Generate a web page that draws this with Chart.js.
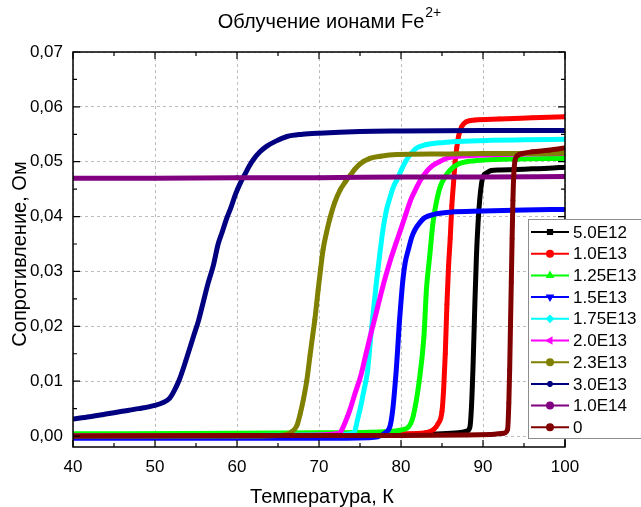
<!DOCTYPE html>
<html><head><meta charset="utf-8">
<script src="https://cdn.jsdelivr.net/npm/chart.js@4.4.1/dist/chart.umd.min.js"></script>
<style>html,body{margin:0;padding:0;background:#fff}</style>
</head><body>
<canvas id="c" width="641" height="507" style="display:block;width:641px;height:507px"></canvas>
<script>
// ---------- data ----------
const titleMain = "Облучение ионами Fe";
const titleSup = "2+";
const xTitle = "Температура, К";
const yTitle = "Сопротивление, Ом";
const seriesLabels = ["5.0E12","1.0E13","1.25E13","1.5E13","1.75E13","2.0E13","2.3E13","3.0E13","1.0E14","0"];
const xTickValues = [40,50,60,70,80,90,100];
const yTickValues = [0,0.01,0.02,0.03,0.04,0.05,0.06,0.07];

const t_5E12 = [40,50,60,70,80,85,87,88,88.4,88.6,88.8,89.0,89.2,89.4,89.6,89.8,90.0,90.5,91,92,94,96,98,100];
const r_5E12 = [0.0002,0.0002,0.0002,0.0002,0.0003,0.0004,0.0006,0.0009,0.0016,0.0055,0.0134,0.0237,0.0328,0.0389,0.0431,0.0458,0.0473,0.0480,0.0484,0.0485,0.0486,0.0487,0.0488,0.0490];

const t_1E13 = [40,60,80,83,84,84.5,85.0,85.2,85.4,85.6,85.8,86.0,86.2,86.4,86.6,86.8,87.0,87.4,88,89,92,96,100];
const r_1E13 = [0.0002,0.0002,0.0004,0.0006,0.0012,0.0022,0.0045,0.0085,0.015,0.024,0.031,0.036,0.042,0.046,0.050,0.0525,0.0545,0.0564,0.0573,0.0576,0.0578,0.0580,0.0582];

const t_125E13 = [40,60,70,78,80,81,81.5,82.2,82.8,83.1,83.5,83.9,84.3,84.8,85.4,86,87,88,90,94,100];
const r_125E13 = [0.0004,0.0005,0.0006,0.0008,0.0011,0.0018,0.0037,0.0098,0.0182,0.0267,0.0328,0.0389,0.0425,0.0455,0.0473,0.0485,0.0496,0.0500,0.0503,0.0505,0.0506];

const t_15E13 = [40,60,70,76,78.2,78.7,79.0,79.2,79.4,79.6,79.8,80.0,80.2,80.5,80.9,81.3,81.7,82.3,82.9,84,86,90,95,100];
const r_15E13 = [-0.0004,-0.0004,-0.0004,-0.0003,0.0007,0.002,0.0049,0.008,0.0116,0.016,0.0207,0.0245,0.028,0.0315,0.034,0.0362,0.0376,0.0389,0.0398,0.0404,0.0408,0.0410,0.0412,0.0413];

const t_175E13 = [40,60,70,73,74.3,74.7,75.1,75.5,75.9,76.4,77.0,77.4,77.8,78.2,78.7,79.1,79.5,80.1,80.7,81.3,81.9,83,84.4,87,91,95,100];
const r_175E13 = [0.0001,0.0001,0.0002,0.0003,0.0007,0.003,0.0055,0.0085,0.0116,0.0195,0.028,0.033,0.0376,0.041,0.0437,0.0455,0.0467,0.0487,0.0504,0.0516,0.0525,0.0531,0.0534,0.0537,0.0539,0.0540,0.0541];

const t_2E13 = [40,60,70,72,72.6,73.2,73.8,74.4,75.1,75.7,76.3,77.0,77.6,78.2,78.8,79.4,80.0,80.6,81.2,81.8,82.4,83.0,83.7,84.7,85.7,88,92,100];
const r_2E13 = [0.0001,0.0001,0.0002,0.0004,0.0007,0.0025,0.0049,0.0078,0.011,0.0148,0.0185,0.0226,0.0262,0.0295,0.0325,0.0352,0.0378,0.0405,0.0431,0.045,0.0467,0.048,0.0491,0.0500,0.0507,0.0511,0.0513,0.0515];

const t_23E13 = [40,50,60,65,66.1,66.7,67.3,67.7,68.1,68.5,68.9,69.2,69.5,69.9,70.2,70.5,70.9,71.3,71.9,72.6,73.2,73.8,74.4,75.0,76.2,77.5,79.5,85,90,95,100];
const r_23E13 = [0.0,0.0,0.0,0.0001,0.0003,0.0008,0.0019,0.004,0.0067,0.010,0.0146,0.018,0.0213,0.0267,0.0305,0.034,0.037,0.0395,0.0425,0.0449,0.0463,0.0475,0.0487,0.0496,0.0506,0.0510,0.0513,0.0514,0.0515,0.0515,0.0516];

const t_3E13 = [40,42,44,46,48,50,51,51.8,52.4,53.0,53.6,54.2,54.7,55.3,55.9,56.5,57.1,57.7,58.2,58.7,59.3,59.8,60.4,61.0,61.5,62.0,62.8,63.6,64.8,66.1,68,70,75,80,90,100];
const r_3E13 = [0.0031,0.0035,0.0040,0.0045,0.0050,0.0056,0.0061,0.0069,0.0084,0.0104,0.013,0.0158,0.0182,0.021,0.0245,0.028,0.031,0.035,0.0372,0.0395,0.0418,0.044,0.0461,0.0478,0.0492,0.0504,0.0518,0.0528,0.0538,0.0546,0.0550,0.0552,0.0555,0.0556,0.0557,0.0557];

const t_1E14 = [40,50,60,70,80,90,100];
const r_1E14 = [0.0470,0.0470,0.0471,0.0471,0.0472,0.0472,0.0473];

const t_0 = [40,60,80,88,91,92.5,93.0,93.15,93.25,93.35,93.45,93.55,93.65,93.75,93.9,94.2,94.8,96,98,100];
const r_0 = [0.0,0.0001,0.0001,0.0002,0.0003,0.0005,0.0012,0.006,0.012,0.02,0.028,0.036,0.043,0.0475,0.0502,0.0511,0.0515,0.0518,0.0521,0.0525];

// ---------- styles ----------
const FONT = "'Liberation Sans', Arial, Helvetica, sans-serif";
const seriesT = [t_5E12,t_1E13,t_125E13,t_15E13,t_175E13,t_2E13,t_23E13,t_3E13,t_1E14,t_0];
const seriesR = [r_5E12,r_1E13,r_125E13,r_15E13,r_175E13,r_2E13,r_23E13,r_3E13,r_1E14,r_0];
const colors = ['#000000','#ff0000','#00ff00','#0000ff','#00ffff','#ff00ff','#808000','#000080','#800080','#800000'];
const markers = [
  {style:'rect',rot:0},{style:'circle',rot:0},{style:'triangle',rot:0},{style:'triangle',rot:180},
  {style:'rectRot',rot:0},{style:'triangle',rot:-90},{style:'circle',rot:0},{style:'star',rot:0},
  {style:'circle',rot:0},{style:'circle',rot:0}
];

const datasets = seriesLabels.map((lab,i)=>({
  label: lab,
  data: seriesT[i].map((t,k)=>({x:t,y:seriesR[i][k]})),
  borderColor: colors[i],
  backgroundColor: colors[i],
  borderWidth: 5,
  pointRadius: 2.4,
  pointStyle: markers[i].style,
  rotation: markers[i].rot,
  pointBorderWidth: 0,
  pointBackgroundColor: colors[i],
  pointBorderColor: colors[i],
  cubicInterpolationMode: 'monotone',
  order: seriesLabels.length - i,
  fill: false
}));

const decorPlugin = {
  id: 'decor',
  afterDraw(chart){
    const ctx = chart.ctx, a = chart.chartArea;
    const xs = chart.scales.x, ys = chart.scales.y;
    ctx.save();
    // frame
    ctx.strokeStyle = '#000'; ctx.lineWidth = 1.5;
    ctx.strokeRect(a.left, a.top, a.right-a.left, a.bottom-a.top);
    // ticks
    ctx.lineWidth = 1.2;
    ctx.beginPath();
    for (let v=40; v<=100; v+=5){
      const px = xs.getPixelForValue(v), L = (v%10===0)?7:4;
      ctx.moveTo(px,a.bottom); ctx.lineTo(px,a.bottom-L);
      ctx.moveTo(px,a.top); ctx.lineTo(px,a.top+L);
    }
    for (let k=0; k<=14; k++){
      const v = k*0.005, py = ys.getPixelForValue(v), L = (k%2===0)?7:4;
      ctx.moveTo(a.left,py); ctx.lineTo(a.left+L,py);
      ctx.moveTo(a.right,py); ctx.lineTo(a.right-L,py);
    }
    ctx.stroke();
    // title with superscript
    ctx.fillStyle = '#000';
    ctx.textBaseline = 'alphabetic';
    ctx.font = '20px ' + FONT;
    const w1 = ctx.measureText(titleMain).width;
    ctx.font = '14px ' + FONT;
    const w2 = ctx.measureText(titleSup).width;
    const tx = 329 - (w1+w2)/2;
    ctx.font = '20px ' + FONT; ctx.textAlign = 'left';
    ctx.fillText(titleMain, tx, 28);
    ctx.font = '14px ' + FONT;
    ctx.fillText(titleSup, tx + w1 + 1, 17);
    // axis titles
    ctx.font = '20px ' + FONT; ctx.textAlign = 'center';
    ctx.fillText(xTitle, 322, 503);
    ctx.save();
    ctx.translate(26, 254); ctx.rotate(-Math.PI/2);
    ctx.fillText(yTitle, 0, 0);
    ctx.restore();
    // legend
    const lx = 528, ly = 219, lw = 130, lh = 219;
    ctx.fillStyle = '#fff'; ctx.fillRect(lx, ly, lw, lh);
    ctx.strokeStyle = '#8c8c8c'; ctx.lineWidth = 1;
    ctx.strokeRect(lx+0.5, ly+0.5, lw, lh);
    ctx.font = '17px ' + FONT; ctx.textAlign = 'left'; ctx.textBaseline = 'middle';
    seriesLabels.forEach((lab,i)=>{
      const y = 232 + i*21.7;
      ctx.strokeStyle = colors[i]; ctx.lineWidth = 2;
      ctx.beginPath(); ctx.moveTo(531,y); ctx.lineTo(569,y); ctx.stroke();
      ctx.fillStyle = colors[i];
      Chart.helpers.drawPoint(ctx, {pointStyle: markers[i].style, rotation: markers[i].rot, radius: 3, borderWidth: 1}, 550, y);
      ctx.fillStyle = '#000';
      ctx.fillText(lab, 573, y+1);
    });
    ctx.restore();
  }
};

new Chart(document.getElementById('c'), {
  type: 'line',
  data: { datasets },
  options: {
    responsive: false,
    animation: false,
    devicePixelRatio: 1,
    layout: { padding: { left: 0, top: 52, right: 76, bottom: 0 } },
    plugins: { legend: { display: false }, tooltip: { enabled: false }, title: { display: false } },
    scales: {
      x: {
        type: 'linear', min: 40, max: 100,
        afterFit(s){ s.height = 60; },
        afterBuildTicks(s){ s.ticks = xTickValues.map(v=>({value:v})); },
        ticks: { padding: 10, color: '#000', font: { family: FONT, size: 17 }, maxRotation: 0 },
        grid: { color: '#bdbdbd', lineWidth: 1, drawTicks: false },
        border: { display: false, dash: [3,3] }
      },
      y: {
        type: 'linear', min: -0.002, max: 0.07,
        afterFit(s){ s.width = 73; },
        afterBuildTicks(s){ s.ticks = yTickValues.map(v=>({value:v})); },
        ticks: { padding: 10, color: '#000', font: { family: FONT, size: 17 },
          callback: v => v.toFixed(2).replace('.', ',') },
        grid: { color: '#bdbdbd', lineWidth: 1, drawTicks: false },
        border: { display: false, dash: [3,3] }
      }
    }
  },
  plugins: [decorPlugin]
});
</script>
</body></html>
